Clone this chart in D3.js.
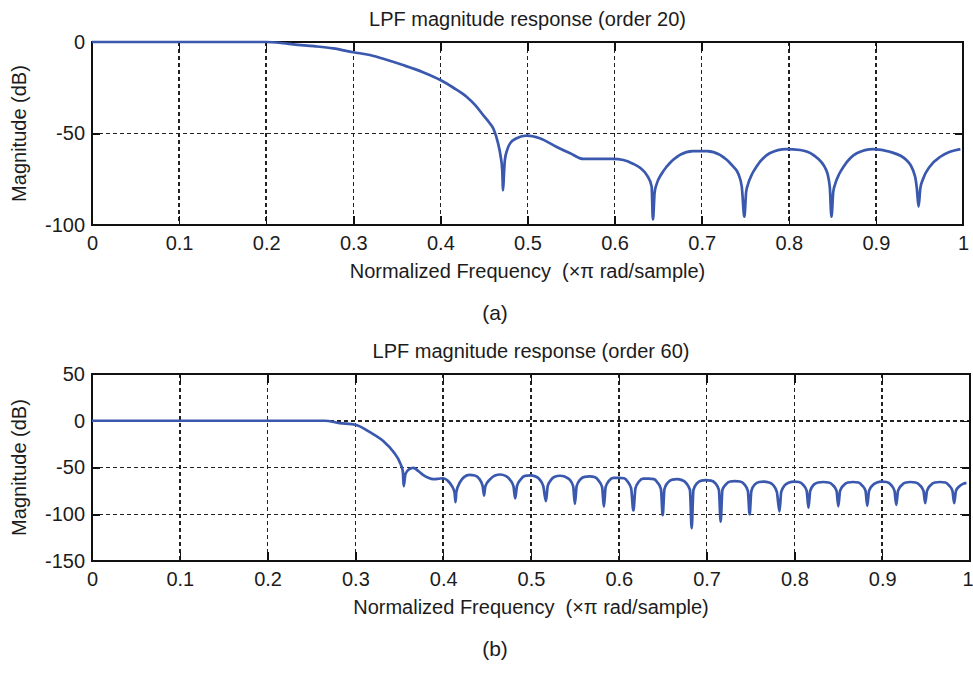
<!DOCTYPE html>
<html>
<head>
<meta charset="utf-8">
<script src="https://cdn.jsdelivr.net/npm/d3@7"></script>
<style>
    body { margin: 0; background: #fff; }
    svg { display: block; }
</style>
</head>
<body>
<div id="chart"></div>
<script>
// frequency ticks (x pi rad/sample)
var freqTicks = [0, 0.1, 0.2, 0.3, 0.4, 0.5, 0.6, 0.7, 0.8, 0.9, 1];
var freqLabels = ["0", "0.1", "0.2", "0.3", "0.4", "0.5", "0.6", "0.7", "0.8", "0.9", "1"];

var magTicksA = [0, -50, -100];
var magTicksB = [50, 0, -50, -100, -150];

var titleA = "LPF magnitude response (order 20)";
var titleB = "LPF magnitude response (order 60)";

// order 20 response, [freq, dB]
var respA = [
    [0, 0], [0.2, 0], [0.22, -0.7], [0.231, -1.3], [0.255, -2.3], [0.277, -3.5], [0.3, -5.6],
    [0.319, -7.1], [0.34, -10], [0.357, -12.6], [0.38, -16.5], [0.4, -20.8], [0.415, -25],
    [0.43, -29.9], [0.44, -34.5], [0.449, -39.9], [0.456, -44], [0.461, -47.5], [0.466, -55],
    [0.469, -62], [0.471, -70], [0.472, -81], [0.473, -72], [0.474, -64.5], [0.477, -58.5],
    [0.48, -55.4], [0.4875, -52.6], [0.499, -51.2], [0.514, -52.6], [0.533, -57.2], [0.549, -60.8],
    [0.564, -63.9], [0.598, -63.9], [0.61, -64.5], [0.621, -66.5], [0.63, -69], [0.637, -72.7],
    [0.6425, -79], [0.644, -97], [0.646, -82], [0.648, -78], [0.654, -72], [0.66, -68],
    [0.675, -61.7], [0.69, -59.6], [0.706, -59.6], [0.721, -61.7], [0.736, -68], [0.742, -72],
    [0.746, -79], [0.749, -95.5], [0.751, -82], [0.753, -78], [0.758, -72], [0.763, -68],
    [0.778, -60.8], [0.797, -58.5], [0.813, -59], [0.828, -61.7], [0.843, -70], [0.847, -79],
    [0.849, -95.5], [0.851, -82], [0.853, -78], [0.858, -72], [0.863, -68], [0.878, -60.8],
    [0.897, -58.5], [0.916, -60], [0.935, -64.5], [0.945, -73.6], [0.947, -80], [0.949, -90],
    [0.951, -80], [0.954, -75], [0.962, -68], [0.974, -62.7], [0.985, -60], [0.997, -58.5]
];

// order 60 response, [freq, dB]
var respB = [
    [0, 0], [0.265, 0], [0.282, -2.5], [0.3, -4.3], [0.317, -12.5], [0.332, -22], [0.343, -32.8],
    [0.351, -45.3], [0.354, -54], [0.355, -70], [0.357, -57], [0.361, -52], [0.366, -50.5],
    [0.372, -54], [0.377, -57.8], [0.383, -61], [0.389, -62.5], [0.395, -62], [0.4, -61.5],
    [0.405, -64], [0.41, -70], [0.413, -77], [0.414, -87], [0.415, -76], [0.419, -66], [0.424, -60],
    [0.43, -57.8], [0.436, -58.5], [0.441, -62], [0.445, -70], [0.4465, -80], [0.448, -70],
    [0.453, -63], [0.459, -58.5], [0.465, -57.5], [0.471, -59], [0.476, -63], [0.48, -70],
    [0.482, -83], [0.484, -70], [0.488, -63], [0.493, -59], [0.499, -58.5], [0.505, -59.5],
    [0.51, -63], [0.514, -70], [0.517, -86], [0.519, -70], [0.523, -63], [0.527, -60],
    [0.533, -58.8], [0.539, -60], [0.544, -63], [0.548, -70], [0.55, -89], [0.552, -70],
    [0.556, -63], [0.561, -60], [0.567, -59.5], [0.573, -60.5], [0.577, -64], [0.581, -71],
    [0.583, -92], [0.585, -71], [0.589, -64], [0.594, -61], [0.6, -61], [0.606, -61.5],
    [0.61, -65], [0.614, -72], [0.6166, -96], [0.619, -72], [0.623, -65], [0.628, -62],
    [0.634, -62], [0.64, -62.5], [0.644, -66], [0.648, -73], [0.65, -101], [0.652, -73],
    [0.656, -66], [0.661, -63], [0.666, -62.5], [0.672, -63.5], [0.677, -67], [0.681, -74],
    [0.683, -115], [0.685, -74], [0.689, -67], [0.694, -64], [0.699, -63.5], [0.705, -64],
    [0.71, -67], [0.714, -74], [0.716, -108], [0.718, -74], [0.722, -68], [0.727, -65],
    [0.732, -64.5], [0.738, -65], [0.743, -68], [0.747, -75], [0.749, -100], [0.751, -75],
    [0.755, -68], [0.76, -65.5], [0.765, -65], [0.771, -66], [0.776, -69], [0.78, -76],
    [0.783, -97], [0.785, -76], [0.789, -69], [0.794, -66], [0.7995, -65], [0.805, -65.5],
    [0.81, -68.5], [0.814, -75], [0.816, -93], [0.818, -75], [0.822, -68.5], [0.827, -66],
    [0.833, -65.5], [0.839, -66], [0.844, -69], [0.848, -75], [0.85, -91.5], [0.852, -75],
    [0.856, -69], [0.861, -66], [0.867, -65.5], [0.873, -66], [0.877, -69], [0.881, -75],
    [0.883, -91], [0.885, -75], [0.889, -69], [0.894, -66], [0.899, -65], [0.905, -65.5],
    [0.91, -68.5], [0.914, -75], [0.916, -90], [0.918, -75], [0.922, -69], [0.927, -66],
    [0.932, -65.5], [0.938, -66], [0.943, -69], [0.947, -75], [0.949, -88], [0.951, -75],
    [0.955, -69], [0.96, -66], [0.966, -65.5], [0.972, -66], [0.976, -69], [0.98, -75],
    [0.982, -88], [0.984, -75], [0.988, -70], [0.992, -67.5], [0.996, -66.5]
];

var FONT = "'Liberation Sans', Arial, sans-serif";
var LINE_COLOR = "#3a58ad";
var TEXT_COLOR = "#1c1c1c";
var GRID_COLOR = "#222";

function init() {
    var w = 973;
    var h = 675;

    var svg = d3.select("#chart")
        .append("svg")
        .attr("width", w)
        .attr("height", h)
        .style("font-family", FONT);

    drawPanel(svg, {
        left: 92, right: 963, top: 42, bottom: 225,
        domain: [-100, 0], ticks: magTicksA, title: titleA, data: respA, tag: "(a)"
    });

    drawPanel(svg, {
        left: 92, right: 970, top: 374, bottom: 561,
        domain: [-150, 50], ticks: magTicksB, title: titleB, data: respB, tag: "(b)"
    });
}

function drawPanel(svg, p) {
    var pw = p.right - p.left;
    var ph = p.bottom - p.top;

    var xScale = d3.scaleLinear().domain([0, 1]).range([0, pw]);
    var yScale = d3.scaleLinear().domain(p.domain).range([ph, 0]);

    var g = svg.append("g")
        .attr("transform", "translate(" + p.left + "," + p.top + ")");

    // grid
    g.selectAll(".vgrid")
        .data(freqTicks.slice(1, -1))
        .enter()
        .append("line")
        .attr("x1", function (d) { return xScale(d); })
        .attr("x2", function (d) { return xScale(d); })
        .attr("y1", 0)
        .attr("y2", ph)
        .attr("stroke", GRID_COLOR)
        .attr("stroke-width", 1.5)
        .attr("stroke-dasharray", "4,3")
        .attr("shape-rendering", "crispEdges");

    g.selectAll(".hgrid")
        .data(p.ticks.filter(function (d) { return d > p.domain[0] && d < p.domain[1]; }))
        .enter()
        .append("line")
        .attr("x1", 0)
        .attr("x2", pw)
        .attr("y1", function (d) { return yScale(d); })
        .attr("y2", function (d) { return yScale(d); })
        .attr("stroke", GRID_COLOR)
        .attr("stroke-width", 1.5)
        .attr("stroke-dasharray", "4,3")
        .attr("shape-rendering", "crispEdges");

    // axes with inward ticks
    var xAxis = d3.axisBottom(xScale)
        .tickValues(freqTicks)
        .tickFormat(function (d, i) { return freqLabels[i]; })
        .tickSizeInner(-9)
        .tickSizeOuter(0)
        .tickPadding(11);

    var xAxisTop = d3.axisTop(xScale)
        .tickValues(freqTicks)
        .tickFormat("")
        .tickSizeInner(-9)
        .tickSizeOuter(0);

    var yAxis = d3.axisLeft(yScale)
        .tickValues(p.ticks)
        .tickFormat(function (d) { return d; })
        .tickSizeInner(-8)
        .tickSizeOuter(0)
        .tickPadding(7);

    var yAxisRight = d3.axisRight(yScale)
        .tickValues(p.ticks)
        .tickFormat("")
        .tickSizeInner(-8)
        .tickSizeOuter(0);

    var bottomAxis = g.append("g").attr("transform", "translate(0," + ph + ")").call(xAxis);

    var axes = [
        bottomAxis,
        g.append("g").call(xAxisTop),
        g.append("g").call(yAxis),
        g.append("g").attr("transform", "translate(" + pw + ",0)").call(yAxisRight)
    ];

    axes.forEach(function (a) {
        a.select(".domain").remove();
        a.selectAll("line")
            .attr("stroke", "#111")
            .attr("stroke-width", 1.5)
            .attr("shape-rendering", "crispEdges");
        a.selectAll("text")
            .style("font-family", FONT)
            .style("font-size", "20px")
            .attr("fill", TEXT_COLOR);
    });

    // keep the last tick label inside the page
    bottomAxis.selectAll(".tick text")
        .filter(function (d) { return d === 1 && p.left + pw + 6 > 973; })
        .attr("text-anchor", "end")
        .attr("x", 973 - p.left - pw);

    // frame
    g.append("rect")
        .attr("x", 0)
        .attr("y", 0)
        .attr("width", pw)
        .attr("height", ph)
        .attr("fill", "none")
        .attr("stroke", "#111")
        .attr("stroke-width", 1.6)
        .attr("shape-rendering", "crispEdges");

    // response curve
    var line = d3.line()
        .curve(d3.curveMonotoneX)
        .x(function (d) { return xScale(d[0]); })
        .y(function (d) { return yScale(d[1]); });

    g.append("path")
        .datum(p.data)
        .attr("d", line)
        .attr("fill", "none")
        .attr("stroke", LINE_COLOR)
        .attr("stroke-width", 2.7)
        .attr("stroke-linejoin", "round");

    // labels
    g.append("text")
        .attr("x", pw / 2)
        .attr("y", -16)
        .attr("text-anchor", "middle")
        .style("font-size", "20px")
        .attr("fill", TEXT_COLOR)
        .text(p.title);

    g.append("text")
        .attr("x", pw / 2)
        .attr("y", ph + 53)
        .attr("text-anchor", "middle")
        .style("font-size", "20px")
        .attr("fill", TEXT_COLOR)
        .style("white-space", "pre")
        .text("Normalized Frequency  (\u00d7\u03c0 rad/sample)");

    g.append("text")
        .attr("transform", "translate(" + (26 - p.left) + "," + (ph / 2) + ") rotate(-90)")
        .attr("text-anchor", "middle")
        .style("font-size", "20px")
        .attr("fill", TEXT_COLOR)
        .text("Magnitude (dB)");

    g.append("text")
        .attr("x", 495 - p.left)
        .attr("y", ph + 95)
        .attr("text-anchor", "middle")
        .style("font-size", "21px")
        .attr("fill", TEXT_COLOR)
        .text(p.tag);
}

window.onload = init;
</script>
</body>
</html>
